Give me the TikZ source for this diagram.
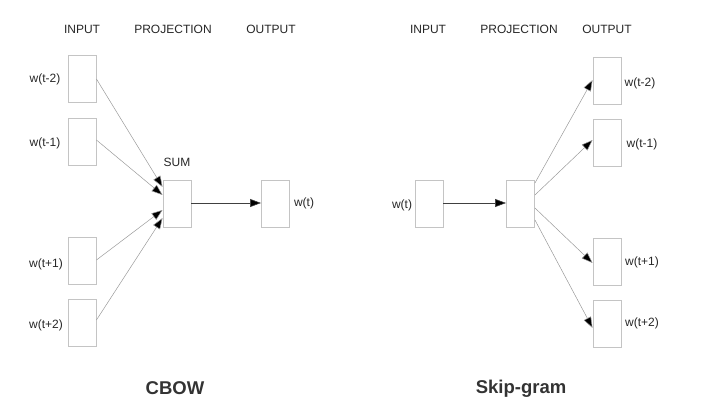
\documentclass[tikz,border=0pt]{standalone}
\usepackage{fontspec}
\setmainfont{Liberation Sans}
\usetikzlibrary{arrows.meta}
\definecolor{boxgray}{HTML}{C4C4C4}
\definecolor{linegray}{HTML}{9A9A9A}
\definecolor{titlegray}{HTML}{333333}
\tikzset{
  wbox/.style={draw=boxgray, line width=0.9pt, minimum width=28pt, minimum height=47pt, inner sep=0pt},
  lbl/.style={font=\fontsize{12}{14}\selectfont, text=black!85, inner sep=0pt},
  hdr/.style={font=\fontsize{12}{14}\selectfont, text=black!85, inner sep=0pt},
  ttl/.style={font=\fontsize{18.5}{22}\selectfont\bfseries, text=titlegray, inner sep=0pt},
  diag/.style={draw=linegray, line width=0.5pt, -{Triangle[length=11pt,width=8pt,fill=black]}},
  straight/.style={draw=black!75, line width=0.6pt, -{Triangle[length=11pt,width=8pt,fill=black]}}
}
\begin{document}
\begin{tikzpicture}[x=1pt,y=-1pt]
\useasboundingbox (0,0) rectangle (724,417);
% ---------- CBOW ----------
\node[hdr] (hin1) at (82,29) {INPUT};
\node[hdr] (hpr1) at (173,29) {PROJECTION};
\node[hdr] (hou1) at (271,29) {OUTPUT};

\node[wbox] (a1) at (82,79) {};
\node[wbox] (a2) at (82,141.5) {};
\node[wbox] (a3) at (82,260.5) {};
\node[wbox] (a4) at (82,322.5) {};
\node[lbl] (la1) at (45,79) {w(t-2)};
\node[lbl] (la2) at (45,143) {w(t-1)};
\node[lbl] (la3) at (46,264) {w(t+1)};
\node[lbl] (la4) at (46,325) {w(t+2)};

\node[wbox] (sum) at (177,203.5) {};
\node[lbl] (lsum) at (177,162) {SUM};
\node[wbox] (out) at (275.5,203.5) {};
\node[lbl] (lout) at (304,203) {w(t)};

\coordinate (s1) at (sum.west |- 0,187);
\coordinate (s2) at (sum.west |- 0,195);
\coordinate (s3) at (sum.west |- 0,210);
\coordinate (s4) at (sum.west |- 0,218);
\draw[diag] (a1.east |- 0,79) -- (s1);
\draw[diag] (a2.east |- 0,140) -- (s2);
\draw[diag] (a3.east |- 0,260) -- (s3);
\draw[diag] (a4.east |- 0,320) -- (s4);
\draw[straight] (sum.east |- 0,203) -- (out.west |- 0,203);

\node[ttl] (cbow) at (175,388) {CBOW};

% ---------- Skip-gram ----------
\node[hdr] (hin2) at (428,29) {INPUT};
\node[hdr] (hpr2) at (519,29) {PROJECTION};
\node[hdr] (hou2) at (607,29) {OUTPUT};

\node[wbox] (win) at (429,203.5) {};
\node[lbl] (lwin) at (402,205) {w(t)};
\node[wbox] (proj) at (520.5,203.5) {};

\node[wbox] (b1) at (607,80.5) {};
\node[wbox] (b2) at (607,142.5) {};
\node[wbox] (b3) at (607,262) {};
\node[wbox] (b4) at (607,324) {};
\node[lbl] (lb1) at (640,83) {w(t-2)};
\node[lbl] (lb2) at (642,144) {w(t-1)};
\node[lbl] (lb3) at (642,262) {w(t+1)};
\node[lbl] (lb4) at (642,323) {w(t+2)};

\draw[straight] (win.east |- 0,203) -- (proj.west |- 0,203);
\draw[diag] (proj.east |- 0,183) -- (b1.west |- 0,80);
\draw[diag] (proj.east |- 0,195) -- (b2.west |- 0,140);
\draw[diag] (proj.east |- 0,208) -- (b3.west |- 0,263);
\draw[diag] (proj.east |- 0,220) -- (b4.west |- 0,328);

\node[ttl] (skip) at (521,389) {Skip-gram};
\end{tikzpicture}
\end{document}
